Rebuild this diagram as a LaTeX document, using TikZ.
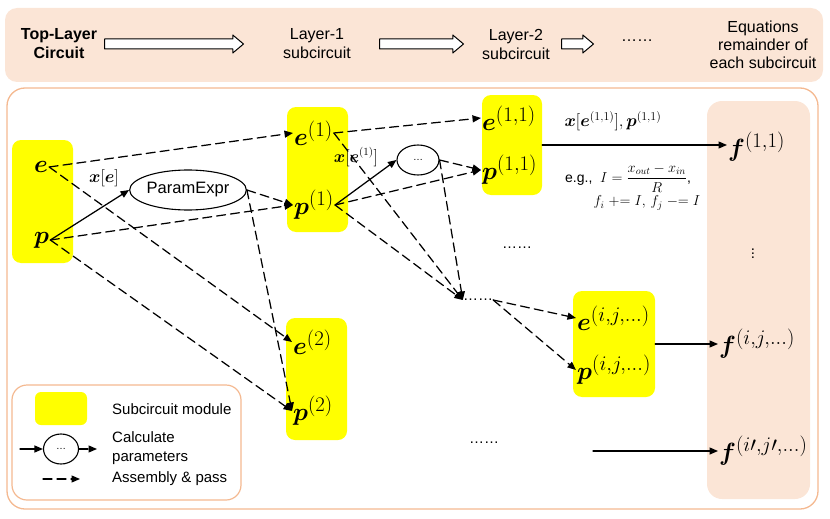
\documentclass[tikz,border=0pt]{standalone}
\usepackage[no-math]{fontspec}
\setmainfont{Liberation Sans}
\usepackage{amsmath}
\usepackage{bm}
\usetikzlibrary{arrows.meta,shapes.geometric,shapes.arrows,positioning}
\definecolor{peach}{RGB}{251,229,214}
\definecolor{peachline}{RGB}{244,185,145}
\definecolor{modyellow}{RGB}{255,255,0}
\tikzset{
  module/.style={fill=modyellow, rounded corners=9pt, inner sep=0pt},
  sym/.style={inner sep=1pt, font=\fontsize{28}{28}\selectfont},
  lbl/.style={inner sep=0pt, font=\fontsize{16}{16}\selectfont},
  txt/.style={inner sep=0pt, font=\fontsize{16}{19}\selectfont, align=center},
  pass/.style={dash pattern=on 9pt off 5pt, line width=1.25pt, -{Triangle[length=8.5pt,width=7pt]}},
  calc/.style={line width=1.25pt, -{Triangle[length=8.5pt,width=7pt]}},
  hollow/.style={single arrow, draw, fill=white, line width=1pt, inner xsep=0pt, inner ysep=4.5pt,
    single arrow head extend=4pt, single arrow tip angle=80, minimum width=0pt},
  paramnode/.style={ellipse, draw, line width=1.1pt, inner sep=0pt},
}
\begin{document}
\begin{tikzpicture}[x=1pt, y=-1pt, line cap=round, line join=round]
  \useasboundingbox (0,0) rectangle (830,519);
  % header band
  \fill[peach, rounded corners=12pt] (5,8) rectangle (823,82);
  \node[txt, font=\fontsize{16}{19}\selectfont\bfseries] (top) at (59,44) {Top-Layer\\Circuit};
  \node[txt] (lay1) at (317,44) {Layer-1\\subcircuit};
  \node[txt] (lay2) at (516,44) {Layer-2\\subcircuit};
  \node[txt] (more) at (637,41) {……};
  \node[txt, font=\fontsize{16}{18}\selectfont] (eqs) at (763,45) {Equations\\remainder of\\each subcircuit};
  \node[hollow, minimum height=139pt, anchor=tail] (go1) at (104,44) {};
  \node[hollow, minimum height=84pt, anchor=tail] (go2) at (379,44) {};
  \node[hollow, minimum height=32pt, anchor=tail] (go3) at (561,44) {};

  % main frame and equation column
  \draw[peachline, line width=1.3pt, rounded corners=18pt] (7,88) rectangle (818,509);
  \fill[peach, rounded corners=15pt] (707,101) rectangle (810,499);

  % subcircuit modules
  \node[module, minimum width=61pt, minimum height=123pt] (m0) at (42.5,201.5) {};
  \node[module, minimum width=61pt, minimum height=125pt] (m1) at (317.5,169.5) {};
  \node[module, minimum width=61pt, minimum height=122pt] (m2) at (316.5,379) {};
  \node[module, minimum width=60pt, minimum height=100pt] (m11) at (512,145) {};
  \node[module, minimum width=82pt, minimum height=106pt] (mij) at (614,344) {};

  % variables
  \node[sym, anchor=west] (e) at (33,167) {$\bm{e}$};
  \node[sym, anchor=west] (p) at (33,240) {$\bm{p}$};
  \node[sym, anchor=west] (e1) at (293,133) {$\bm{e}^{(1)}$};
  \node[sym, anchor=west] (p1) at (293,205) {$\bm{p}^{(1)}$};
  \node[sym, anchor=west] (e2) at (292,342) {$\bm{e}^{(2)}$};
  \node[sym, anchor=west] (p2) at (292,411) {$\bm{p}^{(2)}$};
  \node[sym, anchor=west] (e11) at (481,118) {$\bm{e}^{(1,1)}$};
  \node[sym, anchor=west] (p11) at (481,170) {$\bm{p}^{(1,1)}$};
  \node[sym, anchor=west] (eij) at (576,318) {$\bm{e}^{(i,j,\ldots)}$};
  \node[sym, anchor=west] (pij) at (576,370) {$\bm{p}^{(i,j,\ldots)}$};
  \node[sym, anchor=west] (f11) at (727,147) {$\bm{f}^{(1,1)}$};
  \node[sym, anchor=west] (fij) at (718,344) {$\bm{f}^{(i,j,\ldots)}$};
  \node[sym, anchor=west] (fijp) at (718,451) {$\bm{f}^{(i\prime,j\prime,\ldots)}$};
  \node[lbl, font=\fontsize{15}{15}\selectfont] (vd) at (753,251) {$\vdots$};

  % parameter expressions
  \node[paramnode, minimum width=109pt, minimum height=40pt, font=\fontsize{16.5}{16.5}\selectfont] (pe) at (188,190) {ParamExpr};
  \node[paramnode, minimum width=42pt, minimum height=30pt] (calc1) at (418,160) {\dots};

  % gaps
  \node[lbl, font=\fontsize{15}{15}\selectfont] (gap1) at (517,248) {……};
  \node[lbl, font=\fontsize{15}{15}\selectfont] (deep) at (478,300) {……};
  \node[lbl, font=\fontsize{15}{15}\selectfont] (gap2) at (484,443) {……};

  % labels
  \node[lbl] (xe) at (104,178) {$\bm{x}[\bm{e}]$};
  \node[lbl] (xe1) at (356,157) {$\bm{x}[\bm{e}^{(1)}]$};
  \node[lbl, font=\fontsize{17}{17}\selectfont] (xe11) at (613,121) {$\bm{x}[\bm{e}^{(1,1)}],\bm{p}^{(1,1)}$};
  \node[lbl, anchor=west, font=\fontsize{14}{14}\selectfont] (eg) at (565,178) {e.g.,\ \ $I=\dfrac{x_{out}-x_{in}}{R}$,};
  \node[lbl, font=\fontsize{14.5}{14.5}\selectfont] (eg2) at (647,203) {$f_i\mathrel{{+}{=}}I,\, f_j\mathrel{{-}{=}}I$};

  % top layer to layer-1
  \draw[pass] (e.east) -- (e1.west);
  \draw[pass] (e.east) -- (e2.west);
  \draw[calc] (p.east) -- (pe.west);
  \draw[pass] (p.east) -- (p1.west);
  \draw[pass] (p.east) -- (p2.west);
  \draw[pass] (pe.east) -- (p1.west);
  \draw[pass] (pe.east) -- (p2.west);
  % layer-1 to layer-2
  \draw[pass] (e1.east) -- (e11.west);
  \draw[pass] (e1.east) -- (deep.west);
  \draw[calc] (p1.east) -- (calc1.west);
  \draw[pass] (p1.east) -- (p11.west);
  \draw[pass] (p1.east) -- (deep.west);
  \draw[pass] (calc1.east) -- (p11.west);
  \draw[pass] (calc1.east) -- (deep.west);
  \draw[pass] (deep.east) -- (eij.west);
  \draw[pass] (deep.east) -- (pij.west);
  % equations
  \draw[calc] (m11.east) -- (m11.east -| f11.west);
  \draw[calc] (mij.east) -- (mij.east -| fij.west);
  \coordinate (tailij) at (593,451);
  \draw[calc] (tailij) -- (tailij -| fijp.west);

  % legend
  \draw[peachline, line width=1.2pt, rounded corners=15pt] (12,385) rectangle (241,500);
  \node[module, rounded corners=6pt, minimum width=52pt, minimum height=33pt] (keymod) at (61,408.5) {};
  \node[lbl, anchor=west, font=\fontsize{15}{15}\selectfont] (keymodtxt) at (112,409) {Subcircuit module};
  \coordinate (keyin) at (20,449);
  \node[paramnode, minimum width=35pt, minimum height=30pt] (keycalc) at (61,449) {\dots};
  \coordinate (keyout) at (97,449);
  \draw[calc] (keyin) -- (keycalc);
  \draw[pass] (keycalc) -- (keyout);
  \node[lbl, anchor=west, align=left, font=\fontsize{15}{19}\selectfont] (keycalctxt) at (112,448) {Calculate\\parameters};
  \coordinate (keyA) at (43,479);
  \coordinate (keyB) at (80,479);
  \draw[pass] (keyA) -- (keyB);
  \node[lbl, anchor=west, font=\fontsize{15}{15}\selectfont] (keypasstxt) at (112,479) {Assembly \& pass};
\end{tikzpicture}
\end{document}
